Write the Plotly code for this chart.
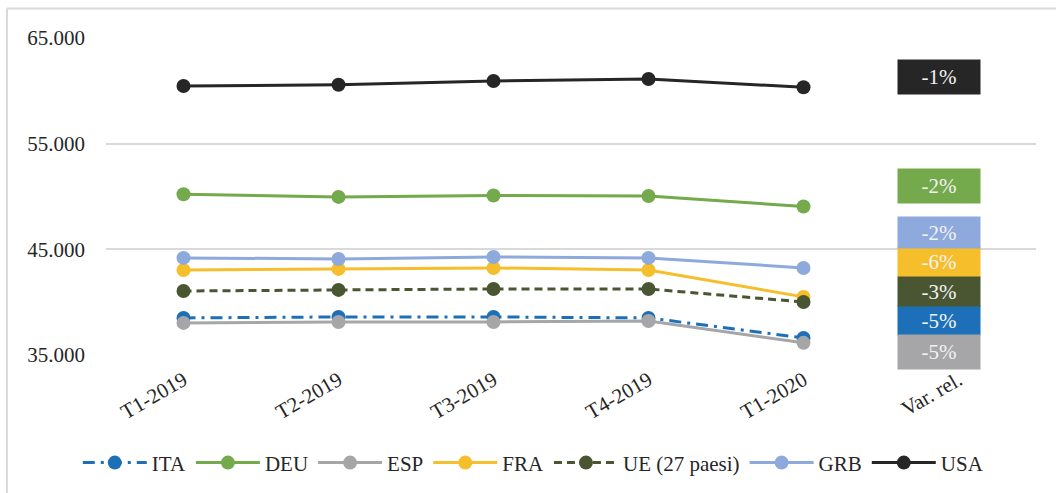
import plotly.graph_objects as go

categories = ["T1-2019", "T2-2019", "T3-2019", "T4-2019", "T1-2020"]
var_category = "Var. rel."

series_names = ["ITA", "DEU", "ESP", "FRA", "UE (27 paesi)", "GRB", "USA"]
ita = [38510, 38600, 38600, 38510, 36620]
deu = [50220, 49960, 50100, 50050, 49050]
esp = [38040, 38130, 38130, 38220, 36150]
fra = [43050, 43150, 43240, 43050, 40500]
ue = [41060, 41160, 41250, 41250, 40020]
grb = [44190, 44090, 44280, 44190, 43240]
usa = [60460, 60580, 60930, 61120, 60340]

var_labels = ["-5%", "-2%", "-5%", "-6%", "-3%", "-2%", "-1%"]

colors = ["#1D70B7", "#74A94C", "#A6A6A8", "#F6BE2B", "#4A5632", "#8EA9DB", "#262626"]
dashes = ["12px,6px,3px,6px", "solid", "solid", "solid", "8px,5px", "solid", "solid"]
values = [ita, deu, esp, fra, ue, grb, usa]

# label box placement (y centre in axis units, box height in px)
label_y = [38265, 51008, 35284, 43768, 41009, 46607, 61323]
label_h = [29, 34, 34, 30, 29, 31, 34]

FONT = "Liberation Serif"
fig = go.Figure()
for name, vals, col, dash in zip(series_names, values, colors, dashes):
    fig.add_trace(go.Scatter(
        x=categories, y=vals, name=name, mode="lines+markers",
        line=dict(color=col, width=3, dash=dash),
        marker=dict(color=col, size=14),
    ))

for txt, col, yv, h in zip(var_labels, colors, label_y, label_h):
    fig.add_annotation(
        x=var_category, y=yv, text=txt, showarrow=False,
        bgcolor=col, width=82, height=h, borderpad=0,
        xshift=-19.5, font=dict(family=FONT, size=21, color="#F2F2F2"),
    )

# outer chart border (left and top)
fig.add_shape(type="line", xref="paper", yref="paper", x0=-0.1065, x1=-0.1065,
              y0=1.093, y1=-0.45, line=dict(color="#D9D9D9", width=2))
fig.add_shape(type="line", xref="paper", yref="paper", x0=-0.1065, x1=1.03,
              y0=1.093, y1=1.093, line=dict(color="#D9D9D9", width=2))

fig.update_layout(
    width=1056, height=493,
    margin=dict(l=106, r=20, t=38, b=138),
    paper_bgcolor="white", plot_bgcolor="white",
    separators=",.",
    font=dict(family=FONT, size=21, color="#262626"),
    showlegend=True,
    legend=dict(orientation="h", xref="container", yref="container",
                x=0.505, xanchor="center", y=0.061, yanchor="middle",
                font=dict(family=FONT, size=21, color="#262626"),
                traceorder="normal", itemwidth=64),
    xaxis=dict(categoryorder="array", categoryarray=categories + [var_category],
               tickvals=categories + [var_category],
               range=[-0.5, 5.5], showgrid=False, showline=False, zeroline=False,
               tickangle=-30, ticks="", ticklabelstandoff=8,
               tickfont=dict(family=FONT, size=21, color="#262626")),
    yaxis=dict(range=[35000, 65000], tickvals=[35000, 45000, 55000, 65000],
               tickformat=",.0f", showgrid=True, gridcolor="#D9D9D9", gridwidth=2,
               zeroline=False, showline=False, ticks="", ticklabelstandoff=20,
               tickfont=dict(family=FONT, size=21, color="#262626")),
)

fig.write_html("out.html", config={"displayModeBar": False},
               post_script="document.body.style.margin='0';document.body.style.overflow='hidden';")
